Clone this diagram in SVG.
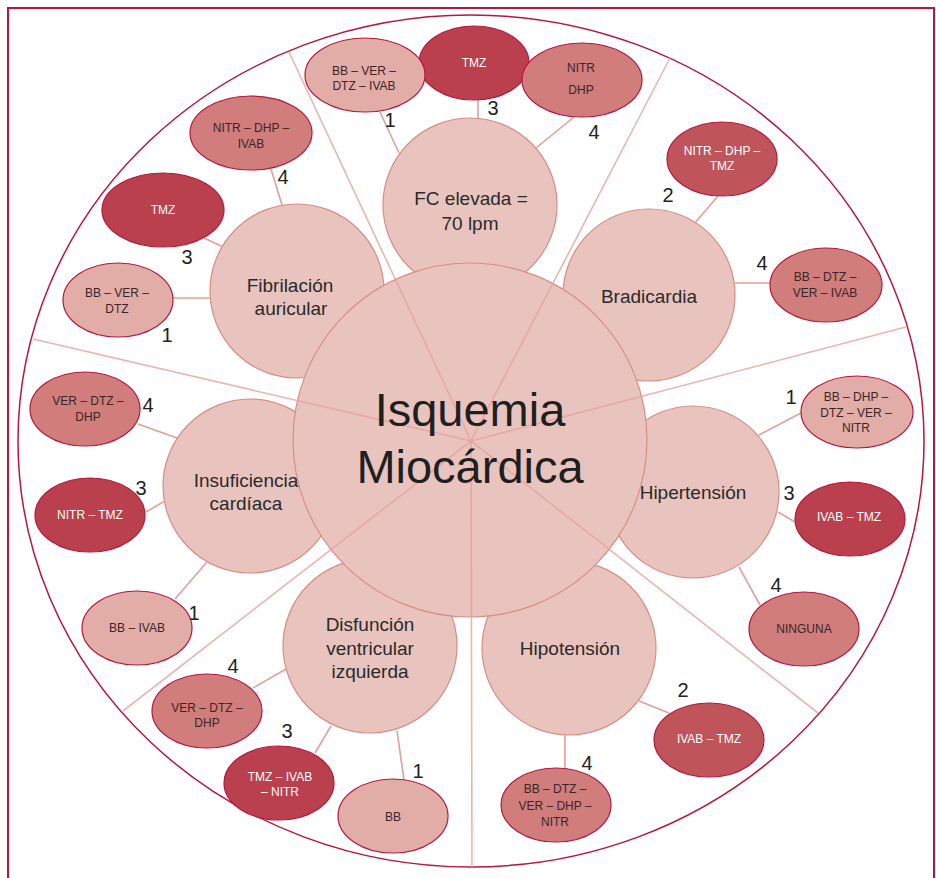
<svg xmlns="http://www.w3.org/2000/svg" width="936" height="878" viewBox="0 0 936 878">
<style>
.cat{fill:#E9C4BF;stroke:#D98C86;stroke-width:1.2}
.r1{fill:#E2ACA7;stroke:#B5173F;stroke-width:1.2}
.r2{fill:#C0545B;stroke:#B5173F;stroke-width:1.2}
.r3{fill:#B9404C;stroke:#B5173F;stroke-width:1.2}
.r4{fill:#D07D7C;stroke:#B5173F;stroke-width:1.2}
.spoke{stroke:#E3A29B;stroke-width:1.6;stroke-opacity:0.8;fill:none}
.con{stroke:#E0A09A;stroke-width:1.6;fill:none}
text{font-family:"Liberation Sans",Arial,sans-serif;text-anchor:middle}
.ct{font-size:19px;fill:#2a2a2a}
.big{font-size:47px;fill:#1f1f1f}
.st{font-size:12px;fill:#3a2626}
.sw{font-size:12px;fill:#ffffff}
.num{font-size:20px;fill:#222}
</style>
<rect x="8" y="8" width="926" height="900" fill="#ffffff" stroke="#B5173F" stroke-width="2"/>
<ellipse cx="471" cy="441" rx="453" ry="426" fill="none" stroke="#B5173F" stroke-width="1.5"/>

<g id="cat-fc"><circle class="cat" cx="470" cy="205" r="87"/></g>
<g id="cat-brad"><circle class="cat" cx="649" cy="295" r="86"/></g>
<g id="cat-hiper"><circle class="cat" cx="693" cy="492" r="86"/></g>
<g id="cat-hipo"><circle class="cat" cx="569" cy="648" r="87"/></g>
<g id="cat-disf"><circle class="cat" cx="370" cy="646" r="87"/></g>
<g id="cat-insuf"><circle class="cat" cx="250" cy="486" r="87"/></g>
<g id="cat-fib"><circle class="cat" cx="297" cy="291" r="87"/></g>
<g id="center"><circle class="cat" cx="470" cy="440" r="177"/></g>

<g id="connectors">
<line class="spoke" x1="471" y1="441" x2="289" y2="52"/>
<line class="spoke" x1="471" y1="441" x2="670" y2="58"/>
<line class="spoke" x1="471" y1="441" x2="906" y2="327"/>
<line class="spoke" x1="471" y1="441" x2="818" y2="713"/>
<line class="spoke" x1="471" y1="441" x2="472" y2="867"/>
<line class="spoke" x1="471" y1="441" x2="123" y2="711"/>
<line class="spoke" x1="471" y1="441" x2="33" y2="339"/>
<line class="con" x1="380" y1="112" x2="399" y2="153"/>
<line class="con" x1="478" y1="100" x2="478" y2="118"/>
<line class="con" x1="574" y1="117" x2="536" y2="148"/>
<line class="con" x1="718" y1="196" x2="695" y2="223"/>
<line class="con" x1="735" y1="283" x2="770" y2="283"/>
<line class="con" x1="801" y1="413" x2="759" y2="435"/>
<line class="con" x1="778" y1="512" x2="795" y2="522"/>
<line class="con" x1="739" y1="567" x2="760" y2="605"/>
<line class="con" x1="639" y1="701" x2="669" y2="713"/>
<line class="con" x1="565" y1="735" x2="565" y2="768"/>
<line class="con" x1="253" y1="688" x2="286" y2="669"/>
<line class="con" x1="315" y1="753" x2="331" y2="726"/>
<line class="con" x1="397" y1="731" x2="404" y2="780"/>
<line class="con" x1="138" y1="424" x2="177" y2="438"/>
<line class="con" x1="146" y1="512" x2="165" y2="501"/>
<line class="con" x1="175" y1="599" x2="207" y2="562"/>
<line class="con" x1="271" y1="169" x2="282" y2="205"/>
<line class="con" x1="204" y1="238" x2="223" y2="247"/>
<line class="con" x1="173" y1="298" x2="210" y2="298"/>
</g>

<g id="labels-cat">
<text class="big" x="470" y="426">Isquemia</text>
<text class="big" x="470" y="483">Miocárdica</text>
<text class="ct" x="471" y="205">FC elevada =</text>
<text class="ct" x="470" y="230">70 lpm</text>
<text class="ct" x="649" y="303">Bradicardia</text>
<text class="ct" x="693" y="499">Hipertensión</text>
<text class="ct" x="570" y="655">Hipotensión</text>
<text class="ct" x="370" y="631">Disfunción</text>
<text class="ct" x="370" y="655">ventricular</text>
<text class="ct" x="370" y="678">izquierda</text>
<text class="ct" x="246" y="487">Insuficiencia</text>
<text class="ct" x="246" y="510">cardíaca</text>
<text class="ct" x="290" y="292">Fibrilación</text>
<text class="ct" x="291" y="315">auricular</text>
</g>

<g id="fc-t3"><ellipse class="r3" cx="474" cy="63" rx="55" ry="37"/><text class="sw" x="474" y="67">TMZ</text><text class="num" x="493" y="115">3</text></g>
<g id="fc-t1"><ellipse class="r1" cx="365" cy="75" rx="60" ry="37"/><text class="st" x="364" y="75">BB – VER –</text><text class="st" x="364" y="90">DTZ – IVAB</text><text class="num" x="390" y="127">1</text></g>
<g id="fc-t4"><ellipse class="r4" cx="582" cy="80" rx="60" ry="37"/><text class="st" x="581" y="72">NITR</text><text class="st" x="581" y="94">DHP</text><text class="num" x="594" y="139">4</text></g>

<g id="brad-t2"><ellipse class="r2" cx="722" cy="159" rx="55" ry="37"/><text class="sw" x="722" y="155">NITR  – DHP –</text><text class="sw" x="722" y="170">TMZ</text><text class="num" x="668" y="202">2</text></g>
<g id="brad-t4"><ellipse class="r4" cx="826" cy="285" rx="56" ry="37"/><text class="st" x="825" y="281">BB – DTZ –</text><text class="st" x="825" y="297">VER – IVAB</text><text class="num" x="762" y="270">4</text></g>

<g id="hiper-t1"><ellipse class="r1" cx="857" cy="412" rx="56" ry="36"/><text class="st" x="856" y="401">BB – DHP –</text><text class="st" x="856" y="417">DTZ – VER –</text><text class="st" x="856" y="432">NITR</text><text class="num" x="791" y="404">1</text></g>
<g id="hiper-t3"><ellipse class="r3" cx="850" cy="519" rx="55" ry="37"/><text class="sw" x="849" y="521">IVAB  – TMZ</text><text class="num" x="789" y="500">3</text></g>
<g id="hiper-t4"><ellipse class="r4" cx="804" cy="629" rx="55" ry="37"/><text class="st" x="804" y="633">NINGUNA</text><text class="num" x="776" y="592">4</text></g>

<g id="hipo-t2"><ellipse class="r2" cx="709" cy="740" rx="55" ry="37"/><text class="sw" x="709" y="743">IVAB  – TMZ</text><text class="num" x="683" y="697">2</text></g>
<g id="hipo-t4"><ellipse class="r4" cx="556" cy="805" rx="55" ry="37"/><text class="st" x="555" y="793">BB – DTZ –</text><text class="st" x="555" y="810">VER – DHP –</text><text class="st" x="555" y="826">NITR</text><text class="num" x="587" y="770">4</text></g>

<g id="disf-t4"><ellipse class="r4" cx="207" cy="711" rx="55" ry="37"/><text class="st" x="207" y="712">VER – DTZ –</text><text class="st" x="207" y="727">DHP</text><text class="num" x="233" y="673">4</text></g>
<g id="disf-t3"><ellipse class="r3" cx="279" cy="783" rx="55" ry="37"/><text class="sw" x="280" y="781">TMZ – IVAB</text><text class="sw" x="280" y="796">– NITR</text><text class="num" x="287" y="738">3</text></g>
<g id="disf-t1"><ellipse class="r1" cx="393" cy="816" rx="55" ry="37"/><text class="st" x="393" y="821">BB</text><text class="num" x="418" y="778">1</text></g>

<g id="insuf-t4"><ellipse class="r4" cx="85" cy="409" rx="55" ry="37"/><text class="st" x="88" y="405">VER – DTZ –</text><text class="st" x="88" y="421">DHP</text><text class="num" x="148" y="412">4</text></g>
<g id="insuf-t3"><ellipse class="r3" cx="90" cy="515" rx="55" ry="37"/><text class="sw" x="90" y="519">NITR  – TMZ</text><text class="num" x="141" y="495">3</text></g>
<g id="insuf-t1"><ellipse class="r1" cx="137" cy="628" rx="55" ry="37"/><text class="st" x="137" y="632">BB – IVAB</text><text class="num" x="194" y="620">1</text></g>

<g id="fib-t4"><ellipse class="r4" cx="251" cy="133" rx="61" ry="37"/><text class="st" x="251" y="132">NITR  – DHP –</text><text class="st" x="251" y="148">IVAB</text><text class="num" x="283" y="184">4</text></g>
<g id="fib-t3"><ellipse class="r3" cx="163" cy="210" rx="61" ry="37"/><text class="sw" x="163" y="214">TMZ</text><text class="num" x="187" y="264">3</text></g>
<g id="fib-t1"><ellipse class="r1" cx="118" cy="300" rx="55" ry="37"/><text class="st" x="117" y="297">BB – VER –</text><text class="st" x="117" y="313">DTZ</text><text class="num" x="167" y="342">1</text></g>
</svg>
